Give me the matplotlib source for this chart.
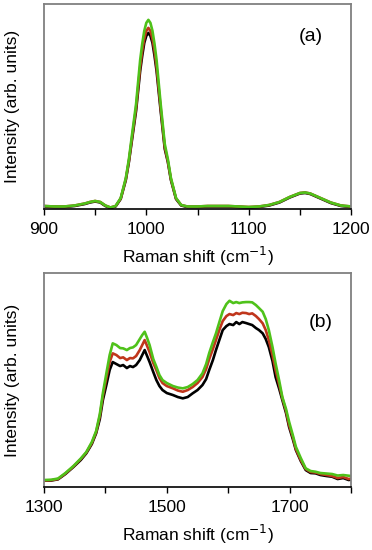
import matplotlib
matplotlib.use("Agg")
import matplotlib.pyplot as plt
from matplotlib.ticker import MultipleLocator, FixedLocator

plt.rcParams['font.family'] = ['Liberation Sans', 'DejaVu Sans']

# ---- Panel (a): 900-1200 cm-1 ----
xa = [900, 910, 920, 930, 940, 945, 950, 955, 960, 965, 970, 975, 980, 983, 986, 990,
      994, 996, 998, 1000, 1002, 1004, 1006, 1008, 1010, 1014, 1018, 1021, 1024, 1029,
      1034, 1040, 1050, 1060, 1070, 1080, 1090, 1100, 1110, 1120, 1130, 1140, 1150,
      1155, 1160, 1170, 1180, 1190, 1200]
ya_green = [3, 2.5, 2.5, 3.5, 5.5, 7, 8, 7, 3.5, 1.5, 3, 11, 31, 50, 74, 105,
            149, 165, 178, 186, 189, 186, 178, 165, 149, 105, 65, 50, 31, 11,
            4, 2.5, 2.5, 3, 3, 3, 2.5, 2, 2.5, 4, 7, 12, 16,
            16.5, 15.5, 11, 6.5, 3.5, 2.5]
ya_red = [3, 2.5, 2.5, 3.5, 5.5, 7, 8, 7, 3.5, 1.5, 3, 10.5, 30, 48, 71, 101,
          142, 158, 170, 178, 181, 178, 170, 158, 142, 101, 62, 48, 30, 10.5,
          4, 2.5, 2.5, 3, 3, 3, 2.5, 2, 2.5, 4, 7, 12, 16,
          16.5, 15.5, 11, 6.5, 3.5, 2.5]
ya_black = [2.5, 2, 2, 3, 5, 6.5, 7.5, 6.5, 3, 1, 2.5, 10, 29, 47, 69, 98,
            138, 153, 166, 173, 176, 173, 166, 153, 138, 98, 60, 47, 29, 10,
            3.5, 2, 2, 2.5, 2.5, 2.5, 2, 1.5, 2, 3.5, 6.5, 11.5, 15.5,
            16, 15, 10.5, 6, 3, 2]

# ---- Panel (b): 1300-1800 cm-1 ----
xb = [1300, 1312, 1323, 1335, 1348, 1360, 1369, 1378, 1385, 1391, 1396, 1402, 1407,
      1412, 1418, 1424, 1429, 1435, 1440, 1445, 1450, 1456, 1460, 1464, 1468, 1472,
      1478, 1483, 1488, 1493, 1500, 1510, 1518, 1526, 1534, 1542, 1550, 1558, 1564,
      1569, 1575, 1580, 1586, 1591, 1597, 1602, 1608, 1613, 1618, 1623, 1629, 1634,
      1639, 1645, 1650, 1656, 1661, 1666, 1672, 1677, 1683, 1688, 1694, 1699, 1705,
      1710, 1718, 1726, 1734, 1742, 1750, 1760, 1769, 1778, 1787, 1796, 1800]
yb_black = [6.3, 6.5, 7.7, 13, 20, 27, 33.7, 43, 53.7, 68, 87, 103, 117,
            125, 123, 121, 122, 119, 121, 120, 122, 127, 132, 137, 131, 125,
            115, 107, 101, 97, 94, 92, 90, 88.7, 90, 93.7, 97, 102, 108,
            117, 127, 137, 148, 157, 161, 163, 162, 165, 163, 165, 164, 163,
            162, 159, 157, 153.7, 148, 140, 126, 110, 98, 87, 74, 60, 48,
            37, 26, 17, 14, 13.7, 12, 11, 10.3, 8, 9, 7, 7.5]
yb_red = [6.5, 6.8, 8, 13.5, 20.5, 28, 34.5, 44, 55, 71, 91, 110, 125,
          133.7, 132, 129, 129.7, 127, 129, 128.7, 131, 137, 142, 147, 141, 135,
          124, 117, 109, 104, 101, 98.7, 96.5, 95.3, 97, 100, 104, 110, 118,
          128, 138, 147, 158, 166, 171, 173, 172, 174, 173, 174.3, 174, 173,
          173.7, 171, 168, 163.7, 157, 147, 132, 117, 102, 89, 76, 62, 50,
          38, 27, 18, 15, 14.5, 13, 12, 11, 9, 10, 8, 8.5]
yb_green = [7, 7.3, 8.5, 14, 21, 28.5, 35, 45, 56, 73, 94, 115, 132,
            143.7, 142, 139, 138.7, 137, 139, 139.7, 142, 148, 152, 155.3, 149, 142,
            128, 120.3, 112, 107, 104, 101, 99.5, 98.7, 100, 103, 107, 113.7, 123,
            134, 145, 153.7, 166, 176, 183, 186.3, 184, 185, 184, 184.7, 185, 185,
            184.7, 182, 179, 175.3, 168, 157, 140, 123.7, 106, 90, 78, 65.3, 52,
            40.3, 29, 18.7, 16, 15.3, 14, 13.5, 13, 11.5, 12, 11.3, 11]

ticks_a = [900, 1000, 1100, 1200]
ticks_b = [1300, 1500, 1700]

colors = {'black': '#000000', 'red': '#c0361c', 'green': '#4fc21a'}

fig = plt.figure(figsize=(3.72, 5.5), dpi=100)
ax1 = fig.add_axes([0.118, 0.62, 0.826, 0.373])
ax2 = fig.add_axes([0.118, 0.1145, 0.826, 0.389])

for ax, x, ys in [(ax1, xa, [ya_black, ya_red, ya_green]),
                  (ax2, xb, [yb_black, yb_red, yb_green])]:
    ax.plot(x, ys[0], color=colors['black'], lw=1.9)
    ax.plot(x, ys[1], color=colors['red'], lw=1.9)
    ax.plot(x, ys[2], color=colors['green'], lw=1.9)
    ax.set_yticks([])
    for s in ['top', 'right', 'left']:
        ax.spines[s].set_color('#808080')
        ax.spines[s].set_linewidth(1.3)
    ax.spines['bottom'].set_color('black')
    ax.spines['bottom'].set_linewidth(1.2)
    ax.tick_params(axis='x', which='both', direction='out', length=4, width=1,
                   labelsize=12.5, pad=5)
    ax.set_xlabel('Raman shift (cm$^{-1}$)', fontsize=12.5, labelpad=6)
    ax.set_ylabel('Intensity (arb. units)', fontsize=12.5)
    ax.yaxis.set_label_coords(-0.078, 0.5)

ax1.set_xlim(900, 1200)
ax1.set_ylim(0, 205)
ax1.xaxis.set_major_locator(FixedLocator(ticks_a))
ax1.xaxis.set_minor_locator(MultipleLocator(50))
ax1.text(0.87, 0.84, '(a)', transform=ax1.transAxes, fontsize=14, ha='center', va='center')

ax2.set_xlim(1300, 1800)
ax2.set_ylim(0, 214)
ax2.xaxis.set_major_locator(FixedLocator(ticks_b))
ax2.xaxis.set_minor_locator(MultipleLocator(100))
ax2.text(0.9, 0.77, '(b)', transform=ax2.transAxes, fontsize=14, ha='center', va='center')

fig.savefig('out.png', dpi=100)
